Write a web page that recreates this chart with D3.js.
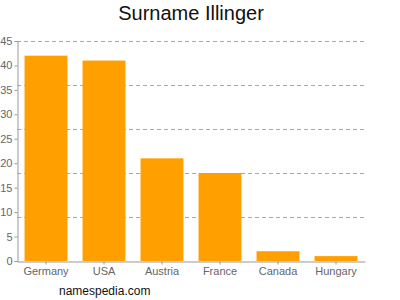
<!DOCTYPE html>
<html>
<head>
  <meta charset="utf-8">
  <script src="https://cdn.jsdelivr.net/npm/d3@7"></script>
  <style>
    html, body { margin:0; padding:0; background:#fff; }
    text { font-family: "Liberation Sans", Arial, sans-serif; }
  </style>
</head>
<body>
<div id="chart"></div>
<script>
    var countries = ["Germany", "USA", "Austria", "France", "Canada", "Hungary"];
    var counts = [42, 41, 21, 18, 2, 1];
    var yTicks = [0, 5, 10, 15, 20, 25, 30, 35, 40, 45];
    var gridValues = [9, 18, 27, 36, 45];

    var svg = d3.select("#chart").append("svg")
        .attr("width", 400).attr("height", 300);

    var x = d3.scaleBand().domain(countries).range([17, 365])
        .paddingInner(0.26).paddingOuter(0.13);
    var y = d3.scaleLinear().domain([0, 45]).range([261, 41]);

    // title
    svg.append("text")
        .attr("x", 191).attr("y", 20)
        .attr("text-anchor", "middle")
        .style("font-size", "20px").style("fill", "#111")
        .text("Surname Illinger");

    // dashed grid
    svg.selectAll(".grid").data(gridValues).enter().append("line")
        .attr("x1", 17).attr("x2", 365)
        .attr("y1", function(d){ return Math.round(y(d)) + 0.5; })
        .attr("y2", function(d){ return Math.round(y(d)) + 0.5; })
        .style("stroke", "#aaa").style("stroke-dasharray", "4,3");

    // bars
    svg.selectAll(".bar").data(counts).enter().append("rect")
        .attr("x", function(d, i){ return x(countries[i]); })
        .attr("width", x.bandwidth())
        .attr("y", function(d){ return y(d); })
        .attr("height", function(d){ return y(0) - y(d); })
        .style("fill", "#ffa000");

    // y axis
    var yAxis = svg.append("g").attr("transform", "translate(17.5,0)")
        .call(d3.axisLeft(y).tickValues(yTicks).tickSize(3).tickPadding(2));
    yAxis.select(".domain").style("stroke", "#999");
    yAxis.selectAll(".tick line").style("stroke", "#999");
    yAxis.selectAll("text").style("fill", "#666").style("font-size", "11px")
        .style("font-family", "Liberation Sans, Arial, sans-serif");

    // x axis
    var xAxis = svg.append("g").attr("transform", "translate(0,261.5)")
        .call(d3.axisBottom(x).tickSize(3).tickSizeOuter(0).tickPadding(3));
    xAxis.select(".domain").style("stroke", "#999");
    xAxis.selectAll(".tick line").style("stroke", "#999");
    xAxis.selectAll("text").style("fill", "#666").style("font-size", "11px")
        .style("font-family", "Liberation Sans, Arial, sans-serif");

    // footer
    svg.append("text")
        .attr("x", 59).attr("y", 295)
        .style("font-size", "12px").style("fill", "#111")
        .text("namespedia.com");
</script>
</body>
</html>
